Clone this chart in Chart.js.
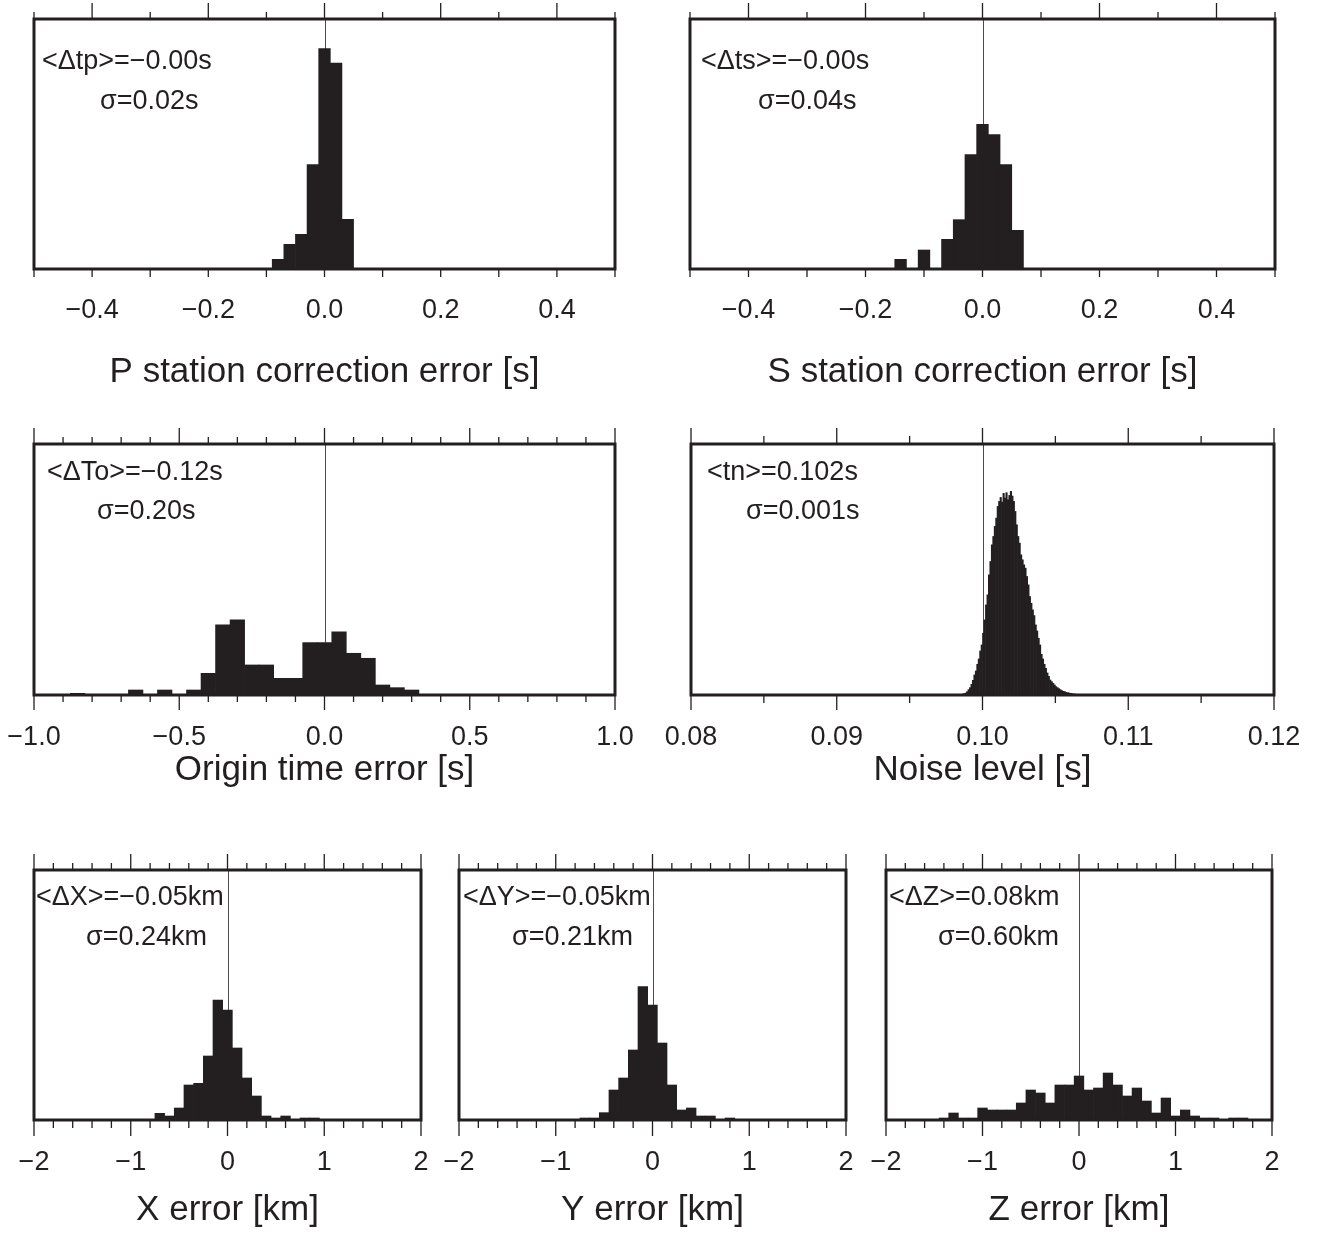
<!DOCTYPE html>
<html>
<head>
<meta charset="utf-8">
<title>Error histograms</title>
<script src="https://cdn.jsdelivr.net/npm/chart.js@4.4.0/dist/chart.umd.min.js"></script>
<style>
  html, body { margin: 0; padding: 0; background: #fff; overflow: hidden; }
  #wrap { position: relative; width: 1317px; height: 1243px; }
  #wrap canvas { position: absolute; left: 0; top: 0; }
</style>
</head>
<body>
<div id="wrap">
  <canvas id="cP" width="1317" height="1243"></canvas>
  <canvas id="cS" width="1317" height="1243"></canvas>
  <canvas id="cO" width="1317" height="1243"></canvas>
  <canvas id="cN" width="1317" height="1243"></canvas>
  <canvas id="cX" width="1317" height="1243"></canvas>
  <canvas id="cY" width="1317" height="1243"></canvas>
  <canvas id="cZ" width="1317" height="1243"></canvas>
</div>
<script>
// ---- data (bin centres + counts) ----
// P station correction error [s], bins of 0.02 s
const pBins = [-0.08, -0.06, -0.04, -0.02, 0.00, 0.02, 0.04];
const pCounts = [29, 74, 104, 313, 661, 618, 149];

// S station correction error [s], bins of 0.02 s
const sBins = [-0.14, -0.12, -0.10, -0.08, -0.06, -0.04, -0.02, 0.00, 0.02, 0.04, 0.06];
const sCounts = [29, 0, 57, 0, 89, 148, 343, 434, 403, 313, 116];

// Origin time error [s], bins of 0.05 s
const oBins = [-0.85, -0.80, -0.75, -0.70, -0.65, -0.60, -0.55, -0.50, -0.45, -0.40, -0.35, -0.30,
               -0.25, -0.20, -0.15, -0.10, -0.05, 0.00, 0.05, 0.10, 0.15, 0.20, 0.25, 0.30];
const oCounts = [5, 0, 0, 0, 15, 0, 15, 0, 15, 65, 210, 225,
                 90, 90, 50, 50, 157, 157, 189, 125, 110, 30, 22, 15];

// Noise level [s], bins of 0.0001 s
const nBins = [
  0.09855, 0.09865, 0.09875, 0.09885, 0.09895, 0.09905, 0.09915, 0.09925, 0.09935, 0.09945,
  0.09955, 0.09965, 0.09975, 0.09985, 0.09995, 0.10005, 0.10015, 0.10025, 0.10035, 0.10045,
  0.10055, 0.10065, 0.10075, 0.10085, 0.10095, 0.10105, 0.10115, 0.10125, 0.10135, 0.10145,
  0.10155, 0.10165, 0.10175, 0.10185, 0.10195, 0.10205, 0.10215, 0.10225, 0.10235, 0.10245,
  0.10255, 0.10265, 0.10275, 0.10285, 0.10295, 0.10305, 0.10315, 0.10325, 0.10335, 0.10345,
  0.10355, 0.10365, 0.10375, 0.10385, 0.10395, 0.10405, 0.10415, 0.10425, 0.10435, 0.10445,
  0.10455, 0.10465, 0.10475, 0.10485, 0.10495, 0.10505, 0.10515, 0.10525, 0.10535, 0.10545,
  0.10555, 0.10565, 0.10575, 0.10585, 0.10595, 0.10605, 0.10615, 0.10625, 0.10635, 0.10645,
  0.10655, 0.10665, 0.10675, 0.10685];
const nCounts = [
  2, 3, 4, 6, 10, 16, 22, 32, 44, 60,
  72, 92, 108, 132, 150, 185, 225, 270, 300, 360,
  400, 450, 475, 505, 530, 565, 580, 592, 578, 604,
  590, 606, 585, 598, 610, 596, 580, 550, 510, 475,
  455, 420, 405, 390, 380, 355, 330, 295, 275, 255,
  238, 210, 192, 170, 150, 122, 108, 92, 80, 66,
  56, 45, 40, 35, 30, 25, 22, 19, 16, 13,
  11, 10, 8, 7, 6, 5, 4, 3, 3, 2,
  2, 2, 1, 1];

// X / Y / Z error [km], bins of 0.1 km
const xBins = [-0.7, -0.6, -0.5, -0.4, -0.3, -0.2, -0.1, 0.0, 0.1, 0.2, 0.3, 0.4, 0.5, 0.6, 0.7, 0.8, 0.9];
const xCounts = [20, 12, 36, 105, 110, 192, 360, 330, 216, 126, 72, 12, 6, 12, 0, 6, 6];

const yBins = [-0.7, -0.6, -0.5, -0.4, -0.3, -0.2, -0.1, 0.0, 0.1, 0.2, 0.3, 0.4, 0.5, 0.6, 0.7, 0.8];
const yCounts = [6, 6, 22, 90, 126, 210, 400, 345, 231, 105, 30, 36, 12, 12, 0, 6];

const zBins = [-1.4, -1.3, -1.2, -1.1, -1.0, -0.9, -0.8, -0.7, -0.6, -0.5, -0.4, -0.3, -0.2, -0.1, 0.0, 0.1,
               0.2, 0.3, 0.4, 0.5, 0.6, 0.7, 0.8, 0.9, 1.0, 1.1, 1.2, 1.3, 1.4, 1.5, 1.6, 1.7];
const zCounts = [6, 21, 6, 6, 36, 30, 30, 30, 51, 90, 81, 51, 105, 105, 132, 90,
                 96, 141, 105, 72, 96, 57, 21, 66, 12, 30, 12, 6, 6, 0, 6, 6];

// tick labels
const tickPS = [-0.4, -0.2, 0.0, 0.2, 0.4];
const tickO = [-1.0, -0.5, 0.0, 0.5, 1.0];
const tickN = [0.08, 0.09, 0.10, 0.11, 0.12];
const tickXYZ = [-2, -1, 0, 1, 2];

const INK = '#231f20';
const FONT = '"Liberation Sans", Arial, Helvetica, sans-serif';
Chart.defaults.font.family = FONT;
Chart.defaults.color = INK;

function fmt(v, dec) {
  const s = Math.abs(v).toFixed(dec);
  return v < -1e-9 ? '\u2212' + s : s;
}

// one panel = one full-page canvas, chart area placed with layout padding
function panel(id, bins, counts, c) {
  const [L, T, R, B] = c.box;
  const H = c.titleDy + 30;          // fixed height of the x axis block
  const titleSize = 35;
  const tickSize = 27;

  const deco = {
    id: 'deco' + id,
    beforeDatasetsDraw(chart) {
      const {ctx, chartArea: a, scales: {x}} = chart;
      const px = Math.round(x.getPixelForValue(c.ref)) + 0.5;
      ctx.save();
      ctx.strokeStyle = '#4d4d4d';
      ctx.lineWidth = 1;
      ctx.beginPath();
      ctx.moveTo(px, a.top);
      ctx.lineTo(px, a.bottom);
      ctx.stroke();
      ctx.restore();
    },
    afterDraw(chart) {
      const {ctx, chartArea: a, scales: {x}} = chart;
      ctx.save();
      ctx.strokeStyle = INK;
      ctx.lineWidth = 1.3;
      // ticks on top and bottom frame
      const n = Math.round((c.max - c.min) / c.minor);
      for (let k = 0; k <= n; k++) {
        const v = c.min + k * c.minor;
        const q = v / c.major;
        const isMajor = Math.abs(q - Math.round(q)) < 1e-6;
        const px = x.getPixelForValue(v);
        ctx.beginPath();
        ctx.moveTo(px, a.top);
        ctx.lineTo(px, a.top - (isMajor ? c.topTick[0] : c.topTick[1]));
        ctx.moveTo(px, a.bottom);
        ctx.lineTo(px, a.bottom + (isMajor ? c.botTick[0] : c.botTick[1]));
        ctx.stroke();
      }
      // frame
      ctx.lineWidth = 3;
      ctx.strokeRect(a.left, a.top, a.right - a.left, a.bottom - a.top);
      // statistics text
      ctx.fillStyle = INK;
      ctx.font = '27px ' + FONT;
      ctx.textBaseline = 'middle';
      ctx.textAlign = 'left';
      c.notes.forEach(t => ctx.fillText(t[0], a.left + t[1], a.top + t[2]));
      ctx.restore();
    }
  };

  return new Chart(document.getElementById(id), {
    type: 'bar',
    data: {
      datasets: [{
        data: bins.map((b, i) => ({x: b, y: counts[i]})),
        backgroundColor: INK,
        borderWidth: 0,
        barPercentage: 1.0,
        categoryPercentage: 1.0
      }]
    },
    options: {
      responsive: false,
      animation: false,
      devicePixelRatio: 1,
      layout: { padding: { left: L, top: T, right: 1317 - R, bottom: 1243 - B - H } },
      plugins: { legend: { display: false }, tooltip: { enabled: false } },
      scales: {
        x: {
          type: 'linear',
          min: c.min,
          max: c.max,
          offset: false,
          afterBuildTicks: (scale) => { scale.ticks = c.ticks.map(v => ({value: v})); },
          afterFit: (scale) => {
            scale.height = H;
            scale.paddingLeft = 0;
            scale.paddingRight = 0;
          },
          grid: { display: false, drawTicks: false, offset: false },
          border: { display: false },
          ticks: {
            autoSkip: false,
            maxRotation: 0,
            padding: c.labelDy - tickSize * 0.6,
            font: { size: tickSize },
            color: INK,
            callback: (v) => fmt(v, c.dec)
          },
          title: {
            display: true,
            text: c.title,
            color: INK,
            font: { size: titleSize },
            padding: { top: 0, bottom: H - c.titleDy - titleSize * 0.6 }
          }
        },
        y: { display: false, min: 0, max: c.ymax }
      }
    },
    plugins: [deco]
  });
}

panel('cP', pBins, pCounts, {
  box: [34, 19, 615, 269], min: -0.5, max: 0.5, ticks: tickPS, dec: 1, ref: 0,
  major: 0.2, minor: 0.1, topTick: [16, 7], botTick: [8, 8], ymax: 750,
  labelDy: 42, titleDy: 103, title: 'P station correction error [s]',
  notes: [['<\u0394tp>=\u22120.00s', 8, 43], ['\u03c3=0.02s', 66, 83]]
});
panel('cS', sBins, sCounts, {
  box: [690, 19, 1275, 269], min: -0.5, max: 0.5, ticks: tickPS, dec: 1, ref: 0,
  major: 0.2, minor: 0.1, topTick: [16, 7], botTick: [8, 8], ymax: 750,
  labelDy: 42, titleDy: 103, title: 'S station correction error [s]',
  notes: [['<\u0394ts>=\u22120.00s', 11, 43], ['\u03c3=0.04s', 68, 83]]
});
panel('cO', oBins, oCounts, {
  box: [34, 444, 615, 695], min: -1, max: 1, ticks: tickO, dec: 1, ref: 0,
  major: 0.5, minor: 0.1, topTick: [16, 7], botTick: [15, 7], ymax: 752,
  labelDy: 43, titleDy: 75, title: 'Origin time error [s]',
  notes: [['<\u0394To>=\u22120.12s', 13, 29], ['\u03c3=0.20s', 63, 68]]
});
panel('cN', nBins, nCounts, {
  box: [691, 444, 1274, 695], min: 0.08, max: 0.12, ticks: tickN, dec: 2, ref: 0.10,
  major: 0.01, minor: 0.005, topTick: [16, 8], botTick: [15, 8], ymax: 752,
  labelDy: 43, titleDy: 75, title: 'Noise level [s]',
  notes: [['<tn>=0.102s', 16, 29], ['\u03c3=0.001s', 55, 68]]
});
panel('cX', xBins, xCounts, {
  box: [34, 870, 421, 1120], min: -2, max: 2, ticks: tickXYZ, dec: 0, ref: 0,
  major: 1, minor: 0.2, topTick: [16, 7], botTick: [16, 8], ymax: 750,
  labelDy: 43, titleDy: 90, title: 'X error [km]',
  notes: [['<\u0394X>=\u22120.05km', 2, 28], ['\u03c3=0.24km', 52, 68]]
});
panel('cY', yBins, yCounts, {
  box: [459, 870, 846, 1120], min: -2, max: 2, ticks: tickXYZ, dec: 0, ref: 0,
  major: 1, minor: 0.2, topTick: [16, 7], botTick: [16, 8], ymax: 750,
  labelDy: 43, titleDy: 90, title: 'Y error [km]',
  notes: [['<\u0394Y>=\u22120.05km', 4, 28], ['\u03c3=0.21km', 53, 68]]
});
panel('cZ', zBins, zCounts, {
  box: [886, 870, 1272, 1120], min: -2, max: 2, ticks: tickXYZ, dec: 0, ref: 0,
  major: 1, minor: 0.2, topTick: [16, 7], botTick: [16, 8], ymax: 750,
  labelDy: 43, titleDy: 90, title: 'Z error [km]',
  notes: [['<\u0394Z>=0.08km', 3, 28], ['\u03c3=0.60km', 52, 68]]
});
</script>
</body>
</html>
